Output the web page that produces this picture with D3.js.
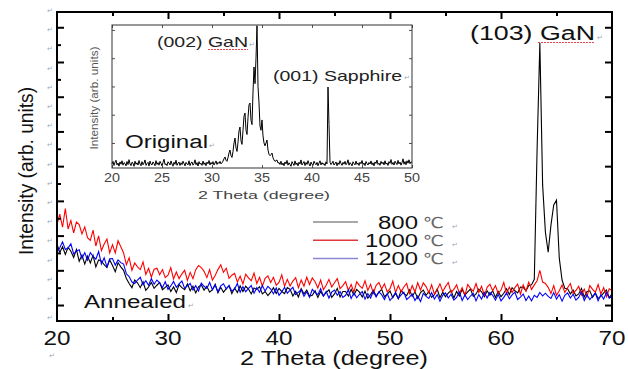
<!DOCTYPE html>
<html>
<head>
<meta charset="utf-8">
<script src="https://cdn.jsdelivr.net/npm/d3@7"></script>
<style>
  body { margin: 0; background: #fff; }
  svg { display: block; font-family: "Liberation Sans", Arial, sans-serif; }
</style>
</head>
<body>
<svg id="chart" width="628" height="369"></svg>
<script>
// main scans, 2theta from 20 to 70 in 0.25 deg steps
var thetaStart = 20, thetaStep = 0.25;
var xTicks = [20, 30, 40, 50, 60, 70];
var xMinor = [25, 35, 45, 55, 65];
var yTicks = [0, 100, 200, 300, 400, 500, 600, 700, 800];
var yMinor = [50, 150, 250, 350, 450, 550, 650, 750];
var seriesLabels = ["800", "1000", "1200"];

// one row = one degree
var counts800 = [
  176,151,168,146, 166,155,137,160, 126,144,118,141, 121,143,110,130, 127,116,108,130,
  114,96,122,110, 100,76,62,50, 72,64,50,67, 42,52,65,48, 57,65,44,51,
  58,39,52,36, 59,50,44,61, 41,54,35,52, 58,43,54,37, 44,60,35,51,
  37,47,55,33, 49,36,55,39, 54,46,32,49, 45,53,32,39, 27,37,50,33,
  48,39,33,50, 45,26,39,23, 47,32,43,26, 28,41,22,39, 26,36,44,22,
  32,48,23,39, 39,26,45,29, 45,37,23,40, 20,30,43,26, 37,45,24,31,
  40,21,34,18, 42,33,27,44, 25,38,19,36, 43,28,39,22, 30,46,21,37,
  24,34,42,20, 39,26,45,29, 38,46,25,32, 46,38,24,41, 28,41,22,39,
  24,34,47,30, 50,41,35,52, 51,41,56,58, 74,446,755,346, 210,152,230,288,
  302,135,72,48, 47,32,43,26, 32,48,23,39, 41,22,35,19, 25,35,43,21,
  32
];
var counts1000 = [
  232,262,224,278, 219,243,208,239, 232,205,225,194, 186,216,170,199, 157,176,190,150,
  174,150,185,168, 150,116,136,100, 121,110,102,124, 88,106,80,103, 106,87,102,79,
  86,108,75,95, 76,90,100,71, 94,76,102,114, 108,97,79,102, 72,85,102,116,
  94,106,77,86, 91,66,83,61, 89,78,70,92, 62,80,54,77, 84,65,80,57,
  65,87,54,74, 55,69,79,50, 72,54,80,59, 78,67,49,72, 44,57,74,52,
  64,76,47,56, 67,42,59,37, 67,56,48,70, 42,60,34,57, 65,46,61,38,
  47,69,36,56, 38,52,62,33, 56,38,64,43, 64,53,35,58, 31,44,61,39,
  53,65,36,45, 58,33,50,28, 59,48,40,62, 36,54,28,51, 60,41,56,33,
  43,65,32,52, 36,50,60,31, 58,40,66,45, 58,70,100,66, 62,51,33,56,
  28,41,58,36, 50,62,33,42, 54,29,46,24, 56,45,37,59, 32,50,24,47,
  42
];
var counts1200 = [
  152,165,182,160, 164,176,147,156, 159,134,151,129, 151,140,132,154, 118,136,110,133,
  134,115,130,122, 118,90,82,66, 62,72,80,58, 70,57,76,60, 72,64,50,67,
  45,55,68,51, 61,69,48,55, 62,43,56,40, 63,54,48,65, 44,57,38,55,
  61,46,57,40, 46,62,37,53, 38,48,56,34, 50,37,56,40, 54,46,32,49,
  28,38,51,34, 43,51,30,37, 44,25,38,22, 45,36,30,47, 26,39,20,37,
  43,28,39,22, 28,44,19,35, 21,31,39,17, 33,20,39,23, 38,30,16,33,
  13,23,36,19, 29,37,16,23, 32,13,26,10, 34,25,19,36, 17,30,11,28,
  35,20,31,14, 22,38,13,29, 16,26,34,12, 30,17,36,20, 36,28,14,31,
  12,22,35,18, 29,37,16,23, 32,13,26,12, 28,22,36,26, 34,25,19,36,
  17,30,11,28, 35,20,31,14, 22,38,13,29, 16,26,34,12, 30,17,36,20,
  24
];

// inset: original sample, 2theta from 20 to 50 in 0.1 deg steps
var insetStart = 20, insetStep = 0.1;
var insetTicks = [20, 25, 30, 35, 40, 45, 50];
var insetYTicks = [200, 400, 600, 800, 1000];
var insetCounts = [
  52,70,41,63,78,45,58,36,66,50, 74,43,61,55,38,69,47,82,53,40,
  64,57,35,71,49,60,44,76,52,39, 68,46,58,80,42,55,63,37,72,50,
  45,66,54,39,75,48,61,43,70,56, 38,62,85,47,53,40,67,58,44,73,
  51,36,64,49,78,42,57,65,41,60, 47,71,55,38,63,52,45,74,40,59,
  66,43,54,81,46,61,37,68,50,57, 42,72,48,60,39,65,53,76,45,62,
  50,68,44,58,73,48,63,55,70,52,
  60,72,88,101,78,70,96,130,150,110, 98,140,200,235,165,140,205,285,313,215,
  190,290,390,412,290,260,380,470,483,360, 330,560,738,620,800,1030,600,483,320,290,
  363,250,200,180,200,221,150,120,110,118, 129,95,80,70,75,80,58,
  62,48,71,
  45,58,39,66,52,77,43,60,49,35, 68,54,41,73,47,59,38,64,51,80,
  44,57,69,40,62,48,75,53,37,65, 50,42,71,56,46,63,39,58,74,45,
  61,48,55,40,67,52,
  596,330,
  64,47,
  58,71,44,53,66,39,60,48,75,55, 42,63,50,70,46,57,81,43,61,52,
  38,67,55,45,72,49,59,41,64,53, 76,47,58,40,69,54,44,62,51,73,
  46,60,38,66,55,79,48,57,42,70, 53,64,45,74,50,59,41,68,56,83,
  49,62,44,71,58,47,77,52,65,43, 60,88,50,69,46,74,57,81,53,67,
  62
];

var svg = d3.select("#chart");

var x = d3.scaleLinear().domain([20, 70]).range([57, 612]);
var y = d3.scaleLinear().domain([-46, 844]).range([321, 12]);

function text(g, px, py, str, size, len, fill, anchor) {
  var t = g.append("text")
    .attr("x", px)
    .attr("y", py)
    .attr("font-size", size)
    .attr("fill", fill || "#111")
    .attr("text-anchor", anchor || "start")
    .text(str);
  if (len) t.attr("textLength", len).attr("lengthAdjust", "spacingAndGlyphs");
  return t;
}

function mark(px, py) {
  svg.append("text")
    .attr("x", px).attr("y", py)
    .attr("font-family", "DejaVu Sans")
    .attr("font-size", 7)
    .attr("fill", "#9aa8b8")
    .text("\u21b5");
}

// stray paragraph marks down the left margin
d3.range(0, 17).forEach(function(k) { mark(47, 13 + k * 19.2); });
mark(49, 358);

// ---- main spectra
var mainLine = function(data) {
  return d3.line()
    .x(function(d, i) { return x(thetaStart + i * thetaStep); })
    .y(function(d) { return y(d); })(data);
};

svg.append("path").attr("d", mainLine(counts800))
  .attr("fill", "none").attr("stroke", "#000").attr("stroke-width", 1.1);
svg.append("path").attr("d", mainLine(counts1000))
  .attr("fill", "none").attr("stroke", "#ff0000").attr("stroke-width", 1.1);
svg.append("path").attr("d", mainLine(counts1200))
  .attr("fill", "none").attr("stroke", "#0000ff").attr("stroke-width", 1.1);

// ---- main axes (ticks inward)
function xAxis(gen, ty, vals, size) {
  svg.append("g").attr("transform", "translate(0," + ty + ")")
    .call(gen(x).tickValues(vals).tickSize(size).tickSizeOuter(0).tickFormat(""))
    .call(function(g) { g.select(".domain").remove(); })
    .selectAll("line").attr("stroke", "#000").attr("stroke-width", 2);
}
function yAxis(gen, tx, vals, size) {
  svg.append("g").attr("transform", "translate(" + tx + ",0)")
    .call(gen(y).tickValues(vals).tickSize(size).tickSizeOuter(0).tickFormat(""))
    .call(function(g) { g.select(".domain").remove(); })
    .selectAll("line").attr("stroke", "#000").attr("stroke-width", 2);
}
xAxis(d3.axisBottom, 321, xTicks.slice(1, -1), -7);
xAxis(d3.axisBottom, 321, xMinor, -4);
xAxis(d3.axisTop, 12, xTicks.slice(1, -1), -7);
xAxis(d3.axisTop, 12, xMinor, -4);
yAxis(d3.axisLeft, 57, yTicks, -7);
yAxis(d3.axisLeft, 57, yMinor, -4);
yAxis(d3.axisRight, 612, yTicks, -7);

svg.append("rect")
  .attr("x", 57).attr("y", 12).attr("width", 555).attr("height", 309)
  .attr("fill", "none").attr("stroke", "#000").attr("stroke-width", 2);

xTicks.forEach(function(v) {
  text(svg, x(v), 345, String(v), 21, 27, "#111", "middle");
});
text(svg, 334, 365, "2 Theta (degree)", 20, 188, "#111", "middle");
text(svg, 0, 0, "Intensity (arb. units)", 21, 168, "#111", "middle")
  .attr("transform", "translate(33,171) rotate(-90)");

// ---- inset
var xi = d3.scaleLinear().domain([20, 50]).range([112, 412]);
var yi = d3.scaleLinear().domain([23, 1035]).range([168, 25]);

svg.append("rect")
  .attr("x", 112).attr("y", 25).attr("width", 300).attr("height", 143)
  .attr("fill", "#fff");

svg.append("path")
  .attr("d", d3.line()
    .x(function(d, i) { return xi(insetStart + i * insetStep); })
    .y(function(d) { return yi(d); })(insetCounts))
  .attr("fill", "none").attr("stroke", "#000").attr("stroke-width", 1);

[[d3.axisBottom, 168], [d3.axisTop, 25]].forEach(function(a) {
  svg.append("g").attr("transform", "translate(0," + a[1] + ")")
    .call(a[0](xi).tickValues(insetTicks).tickSize(-3).tickSizeOuter(0).tickFormat(""))
    .call(function(g) { g.select(".domain").remove(); })
    .selectAll("line").attr("stroke", "#555");
});
[[d3.axisLeft, 112], [d3.axisRight, 412]].forEach(function(a) {
  svg.append("g").attr("transform", "translate(" + a[1] + ",0)")
    .call(a[0](yi).tickValues(insetYTicks).tickSize(-3).tickSizeOuter(0).tickFormat(""))
    .call(function(g) { g.select(".domain").remove(); })
    .selectAll("line").attr("stroke", "#555");
});

svg.append("rect")
  .attr("x", 112).attr("y", 25).attr("width", 300).attr("height", 143)
  .attr("fill", "none").attr("stroke", "#333").attr("stroke-width", 1);

insetTicks.forEach(function(v) {
  text(svg, xi(v), 182, String(v), 12, 16, "#444", "middle");
});
text(svg, 264, 199, "2 Theta (degree)", 11.5, 132, "#444", "middle");
text(svg, 0, 0, "Intensity (arb. units)", 11, 103, "#555", "middle")
  .attr("transform", "translate(98,98) rotate(-90)");

// ---- annotations
function squiggle(x0, x1, yy) {
  svg.append("line")
    .attr("x1", x0).attr("x2", x1).attr("y1", yy).attr("y2", yy)
    .attr("stroke", "#e8464e").attr("stroke-width", 1.2)
    .attr("stroke-dasharray", "2,1");
}
text(svg, 157, 47, "(002) GaN", 14.5, 91, "#222");
squiggle(208, 248, 49.5);
mark(249, 47);
text(svg, 273, 81, "(001) Sapphire", 14.5, 129, "#222");
mark(404, 80);
text(svg, 125, 148, "Original", 18, 83, "#111");
mark(209, 148);
text(svg, 470, 40, "(103) GaN", 20, 125, "#111");
squiggle(538, 595, 42.5);
mark(597, 40);
text(svg, 84, 308, "Annealed", 18, 102, "#111");
mark(188, 308);

// ---- legend
var legendColors = ["#8c8c8c", "#e0383c", "#8a86d6"];
var legendLen = [40, 53, 53];
seriesLabels.forEach(function(s, i) {
  var ly = 222 + i * 18.2;
  svg.append("line")
    .attr("x1", 313).attr("x2", 358).attr("y1", ly).attr("y2", ly)
    .attr("stroke", legendColors[i]).attr("stroke-width", 1.5);
  text(svg, 418, ly + 7, s, 18, legendLen[i], "#111", "end");
  text(svg, 423, ly + 6, "\u2103", 15, 21, "#666")
    .attr("font-family", "DejaVu Sans");
  mark(452, ly + 7);
});
</script>
</body>
</html>
